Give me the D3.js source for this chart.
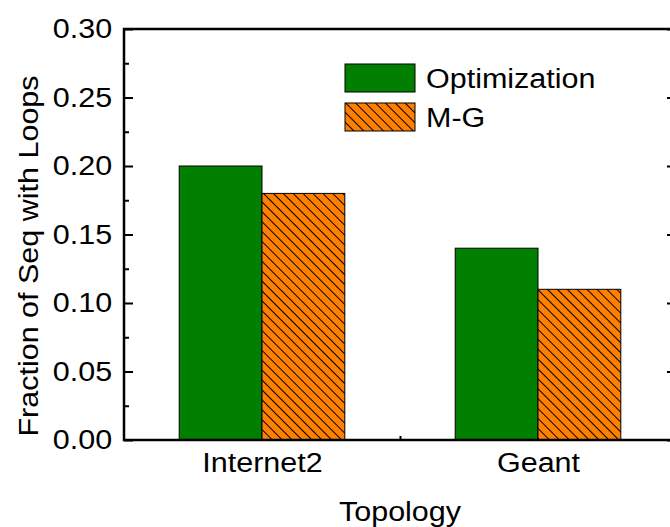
<!DOCTYPE html>
<html lang="en">
  <head>
    <meta charset="UTF-8" />
    <title>Fraction of Seq with Loops</title>
    <script src="https://cdn.jsdelivr.net/npm/d3@7"></script>
    <style>
      body { margin: 0; background: #fff; }
      svg { display: block; font-family: "Liberation Sans", Arial, sans-serif; }
      .axis path, .axis line { stroke: #000; }
    </style>
  </head>
  <body>
    <div class="chart"></div>
    <script>
    // data
    var topologies = ["Internet2", "Geant"];
    var seriesNames = ["Optimization", "M-G"];
    var optimization = [0.20, 0.14];
    var mg = [0.18, 0.11];
    var yTicks = [0.00, 0.05, 0.10, 0.15, 0.20, 0.25, 0.30];
    var yMinorTicks = [0.025, 0.075, 0.125, 0.175, 0.225, 0.275];

    var w = 670, h = 527;
    var mLeft = 124, mRight = 676, mTop = 29, mBottom = 440;
    var fs = 27, sx = 1.13;   // text is a bit wider than plain Arial

    var svg = d3.select(".chart").append("svg")
                .attr("width", w)
                .attr("height", h);

    var defs = svg.append("defs");
    var hatch = defs.append("pattern")
                    .attr("id", "hatch")
                    .attr("patternUnits", "userSpaceOnUse")
                    .attr("width", 7)
                    .attr("height", 7)
                    .attr("patternTransform", "rotate(-45)");
    hatch.append("rect")
         .attr("width", 7).attr("height", 7)
         .attr("fill", "#ff8000");
    hatch.append("line")
         .attr("x1", 0.5).attr("y1", 0)
         .attr("x2", 0.5).attr("y2", 7)
         .attr("stroke", "#000")
         .attr("stroke-width", 1);

    var x = d3.scaleLinear().domain([0.5, 2.5]).range([mLeft, mRight]);
    var y = d3.scaleLinear().domain([0, 0.30]).range([mBottom, mTop]);
    var barW = 0.3;

    var fills = ["#007f00", "url(#hatch)"];
    var series = [optimization, mg];

    // bars
    series.forEach(function(vals, s) {
      svg.append("g").selectAll("rect")
         .data(vals)
         .enter()
         .append("rect")
         .attr("x", function(d, i) { return x(i + 1 - barW + s * barW); })
         .attr("y", function(d) { return y(d); })
         .attr("width", x(barW) - x(0))
         .attr("height", function(d) { return y(0) - y(d); })
         .attr("fill", fills[s])
         .attr("stroke", "#000")
         .attr("stroke-width", 1);
    });

    // left axis
    var yAxis = d3.axisLeft(y)
                  .tickValues(yTicks)
                  .tickFormat(d3.format(".2f"))
                  .tickSize(-9)
                  .tickPadding(10.5);
    svg.append("g")
       .attr("class", "axis")
       .attr("transform", "translate(" + mLeft + ",0)")
       .call(yAxis)
       .call(function(g) {
         g.select(".domain").remove();
         g.selectAll("line").attr("stroke-width", 2);
         g.selectAll("text").attr("font-size", fs).attr("fill", "#000")
          .attr("font-family", "Liberation Sans, Arial, sans-serif")
          .attr("transform", "scale(" + sx + ",1)");
       });

    svg.append("g")
       .attr("class", "axis")
       .attr("transform", "translate(" + mLeft + ",0)")
       .call(d3.axisLeft(y).tickValues(yMinorTicks).tickSize(-5).tickFormat(""))
       .call(function(g) {
         g.select(".domain").remove();
         g.selectAll("line").attr("stroke-width", 2);
       });

    // right axis (mostly outside the picture)
    svg.append("g")
       .attr("class", "axis")
       .attr("transform", "translate(" + mRight + ",0)")
       .call(d3.axisRight(y).tickValues(yTicks).tickSize(-9).tickFormat(""))
       .call(function(g) {
         g.select(".domain").remove();
         g.selectAll("line").attr("stroke-width", 2);
       });

    // bottom axis
    var xAxis = d3.axisBottom(x)
                  .tickValues([1, 2])
                  .tickSize(0)
                  .tickPadding(13)
                  .tickFormat(function(d) { return topologies[d - 1]; });
    svg.append("g")
       .attr("class", "axis")
       .attr("transform", "translate(0," + mBottom + ")")
       .call(xAxis)
       .call(function(g) {
         g.select(".domain").remove();
         g.selectAll("text").attr("font-size", fs).attr("fill", "#000")
          .attr("font-family", "Liberation Sans, Arial, sans-serif")
          .attr("transform", "scale(" + sx + ",1)");
       });

    svg.append("g")
       .attr("class", "axis")
       .attr("transform", "translate(0," + mBottom + ")")
       .call(d3.axisBottom(x).tickValues([1.5]).tickSize(-4).tickFormat(""))
       .call(function(g) {
         g.select(".domain").remove();
         g.selectAll("line").attr("stroke-width", 2);
       });

    // frame
    svg.append("rect")
       .attr("x", mLeft)
       .attr("y", mTop)
       .attr("width", mRight - mLeft)
       .attr("height", mBottom - mTop)
       .attr("fill", "none")
       .attr("stroke", "#000")
       .attr("stroke-width", 2.5);

    // axis titles
    svg.append("text")
       .attr("transform", "translate(400,521) scale(" + sx + ",1)")
       .attr("text-anchor", "middle")
       .attr("font-size", fs)
       .text("Topology");

    svg.append("text")
       .attr("transform", "translate(38,256) rotate(-90) scale(" + sx + ",1)")
       .attr("text-anchor", "middle")
       .attr("font-size", fs)
       .text("Fraction of Seq with Loops");

    // legend
    var legend = svg.selectAll("g.legend")
                    .data(seriesNames)
                    .enter().append("g")
                    .attr("class", "legend")
                    .attr("transform", function(d, i) {
                      return "translate(345," + (64 + i * 39) + ")";
                    });

    legend.append("rect")
          .attr("width", 70)
          .attr("height", 28)
          .attr("fill", function(d, i) { return fills[i]; })
          .attr("stroke", "#000")
          .attr("stroke-width", 1);

    legend.append("text")
          .attr("transform", "translate(81,24) scale(" + sx + ",1)")
          .attr("font-size", fs)
          .text(function(d) { return d; });
    </script>
  </body>
</html>
